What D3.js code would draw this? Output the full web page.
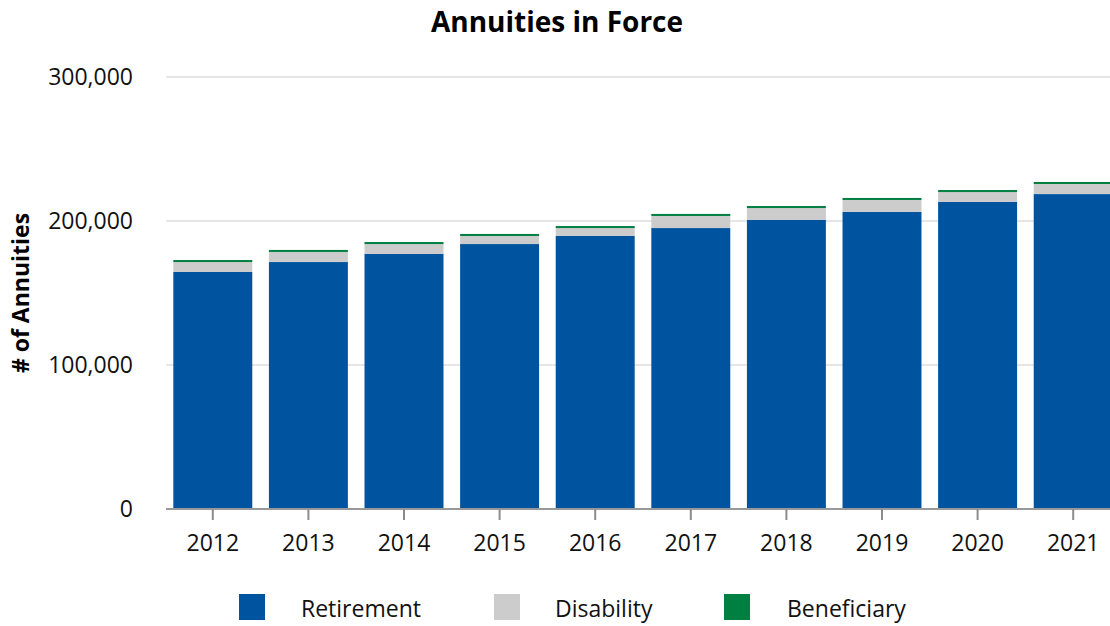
<!DOCTYPE html>
<html>
<head>
<meta charset="utf-8">
<script src="https://cdn.jsdelivr.net/npm/d3@7"></script>
<style>
  html, body { margin: 0; padding: 0; background: #fff; }
  svg { display: block; font-family: "Open Sans", "Noto Sans", sans-serif; }
</style>
</head>
<body>
<svg id="chart" width="1110" height="626"></svg>
<script>
const years = ["2012","2013","2014","2015","2016","2017","2018","2019","2020","2021"];
const retirement  = [164600, 171500, 177100, 184000, 189600, 195100, 200700, 206300, 213200, 218700];
const disability  = [6900, 7000, 6900, 5600, 5500, 8400, 8300, 8300, 6900, 7000];
const beneficiary = [1400, 1400, 1400, 1400, 1400, 1400, 1400, 1400, 1400, 1400];
const seriesNames = ["Retirement", "Disability", "Beneficiary"];
const seriesColors = ["#00549f", "#cccccc", "#008040"];
const yTicks = [0, 100000, 200000, 300000];

const svg = d3.select("#chart");

const rows = years.map((y, i) => ({
  year: y,
  Retirement: retirement[i],
  Disability: disability[i],
  Beneficiary: beneficiary[i]
}));
const stacked = d3.stack().keys(seriesNames)(rows);

const x = d3.scaleBand().domain(years).range([165, 1121]).paddingInner(0.174).paddingOuter(0.087);
const y = d3.scaleLinear().domain([0, 300000]).range([509, 77]);

// gridlines
svg.append("g").selectAll("line").data(yTicks.filter(d => d > 0)).join("line")
  .attr("x1", 166).attr("x2", 1110)
  .attr("y1", d => y(d)).attr("y2", d => y(d))
  .attr("stroke", "#e6e6e6").attr("stroke-width", 2);

// bars
svg.append("g").selectAll("g").data(stacked).join("g")
  .attr("fill", (d, i) => seriesColors[i])
  .selectAll("rect").data(d => d).join("rect")
  .attr("x", d => x(d.data.year))
  .attr("width", x.bandwidth())
  .attr("y", d => y(d[1]))
  .attr("height", d => y(d[0]) - y(d[1]));

// x axis
const xAxis = svg.append("g").attr("transform", "translate(0,509)")
  .call(d3.axisBottom(x).tickSizeInner(11).tickSizeOuter(0).tickPadding(15));
xAxis.select(".domain").attr("stroke", "#999").attr("stroke-width", 2)
  .attr("d", "M166,0H1110");
xAxis.selectAll(".tick line").attr("stroke", "#8c8c8c").attr("stroke-width", 2);
xAxis.selectAll(".tick text").attr("font-size", 23).attr("fill", "#111")
  .attr("font-family", "'Open Sans', sans-serif");

// y axis
const yAxis = svg.append("g").attr("transform", "translate(133,0)")
  .call(d3.axisLeft(y).tickValues(yTicks).tickFormat(d3.format(",")).tickSize(0).tickPadding(0));
yAxis.select(".domain").remove();
yAxis.selectAll(".tick text").attr("font-size", 23).attr("fill", "#111")
  .attr("font-family", "'Open Sans', sans-serif");

// title
svg.append("text").attr("x", 557).attr("y", 32).attr("text-anchor", "middle")
  .attr("font-size", 28).attr("font-weight", "bold").attr("fill", "#000")
  .text("Annuities in Force");

// y axis title
svg.append("text").attr("transform", "translate(29,293) rotate(-90)")
  .attr("text-anchor", "middle").attr("font-size", 23).attr("font-weight", "bold").attr("fill", "#000")
  .text("# of Annuities");

// legend
const legendX = [239, 494, 724];
const legendTextX = [301, 555, 787];
const lg = svg.append("g").selectAll("g").data(seriesNames).join("g");
lg.append("rect").attr("x", (d, i) => legendX[i]).attr("y", 594).attr("width", 26).attr("height", 26)
  .attr("fill", (d, i) => seriesColors[i]);
lg.append("text").attr("x", (d, i) => legendTextX[i]).attr("y", 617)
  .attr("font-size", 23).attr("fill", "#111").text(d => d);
</script>
</body>
</html>
